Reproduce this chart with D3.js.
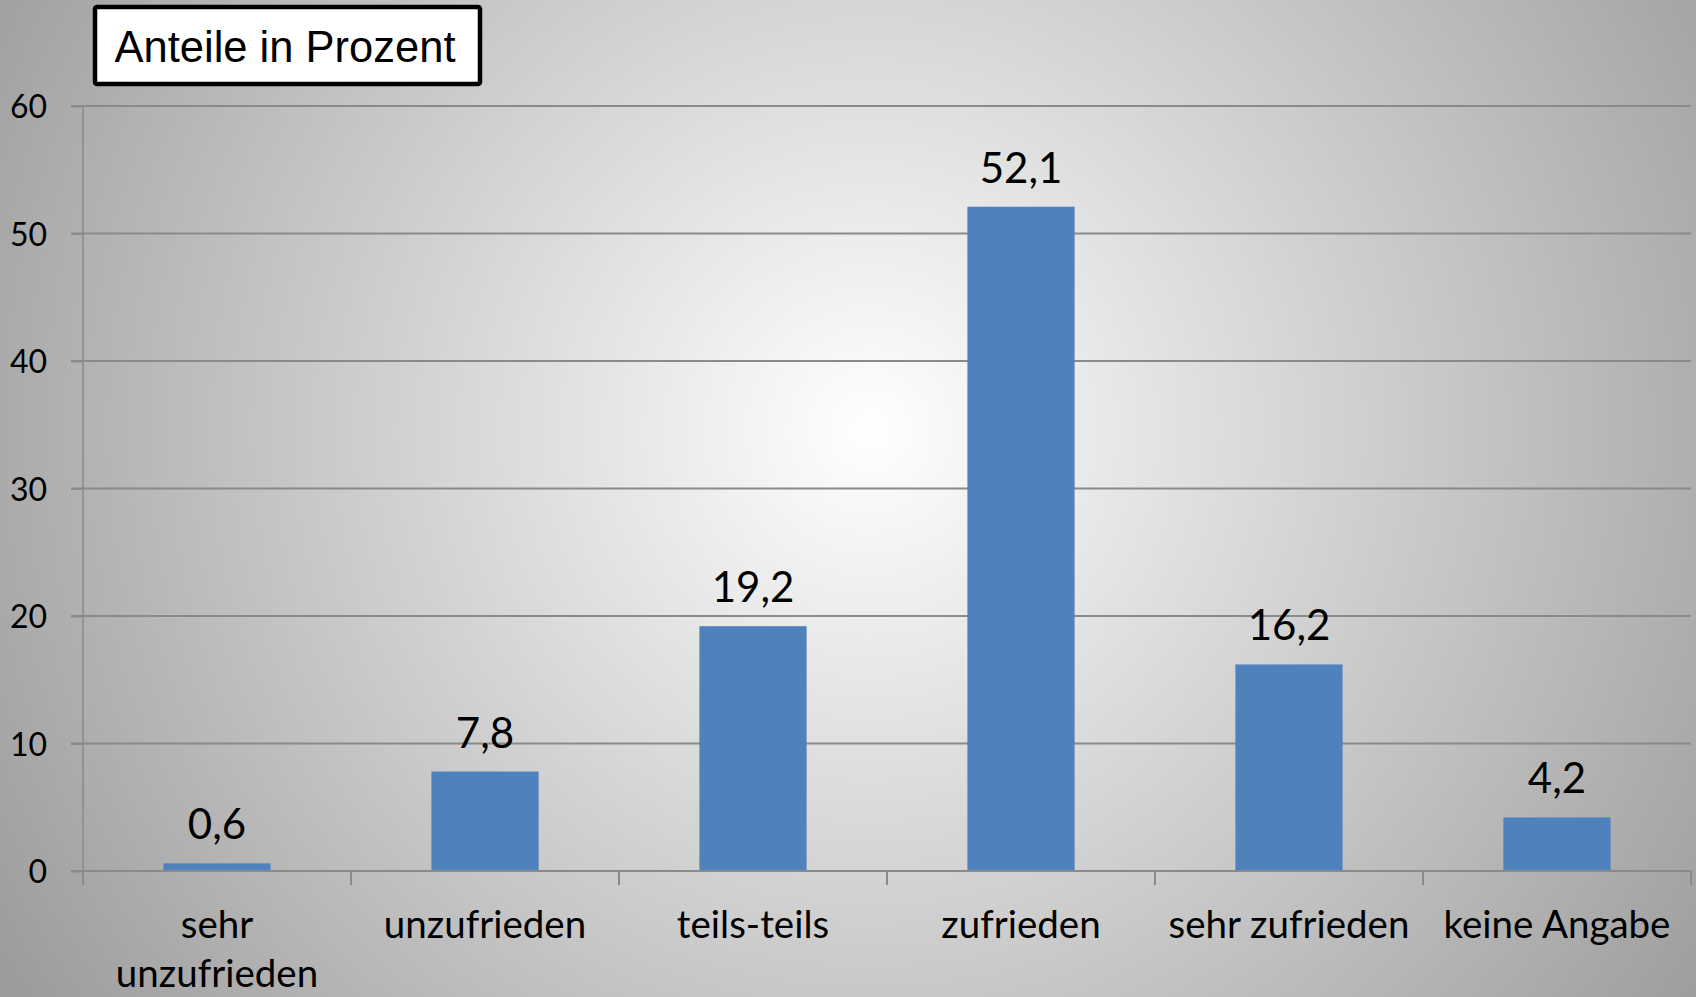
<!DOCTYPE html>
<html>
<head>
<meta charset="utf-8">
<script src="https://cdn.jsdelivr.net/npm/d3@7/dist/d3.min.js"></script>
<style>
  html, body { margin: 0; padding: 0; overflow: hidden; }
  svg { display: block; }
</style>
</head>
<body>
<svg id="chart" width="1696" height="997"></svg>
<script>
// ---- Data ----
const categories = ["sehr unzufrieden", "unzufrieden", "teils-teils", "zufrieden", "sehr zufrieden", "keine Angabe"];
const categoryLabels = [["sehr", "unzufrieden"], ["unzufrieden"], ["teils-teils"], ["zufrieden"], ["sehr zufrieden"], ["keine Angabe"]];
const values = [0.6, 7.8, 19.2, 52.1, 16.2, 4.2];
const valueLabels = ["0,6", "7,8", "19,2", "52,1", "16,2", "4,2"];
const yTicks = [0, 10, 20, 30, 40, 50, 60];
const title = "Anteile in Prozent";

// ---- Layout ----
const W = 1696, H = 997;
const plot = { left: 83, right: 1691, top: 106, bottom: 871 };
const svg = d3.select("#chart");

const defs = svg.append("defs");
const grad = defs.append("radialGradient")
  .attr("id", "bg").attr("gradientUnits", "userSpaceOnUse")
  .attr("cx", 870).attr("cy", 430).attr("r", 1020);
grad.append("stop").attr("offset", "0").attr("stop-color", "#ffffff");
grad.append("stop").attr("offset", "1").attr("stop-color", "#9c9c9c");
svg.append("rect").attr("width", W).attr("height", H).attr("fill", "url(#bg)");

const x = d3.scaleBand().domain(categories).range([plot.left, plot.right]).padding(0);
const y = d3.scaleLinear().domain([0, 60]).range([plot.bottom, plot.top]);
const bw = x.bandwidth();
const barW = bw * 0.4;

// gridlines
svg.append("g").selectAll("line").data(yTicks.slice(1)).join("line")
  .attr("x1", plot.left - 12).attr("x2", plot.right)
  .attr("y1", d => y(d)).attr("y2", d => y(d))
  .attr("stroke", "#8a8a8a").attr("stroke-width", 2);

// y axis
const yAxis = d3.axisLeft(y).tickValues(yTicks).tickSize(12).tickPadding(24);
const gy = svg.append("g").attr("transform", `translate(${plot.left},0)`).call(yAxis);
gy.select(".domain").attr("stroke", "#8a8a8a").attr("stroke-width", 1.5).attr("d", `M0,${plot.top}V${plot.bottom}`);
gy.selectAll(".tick line").attr("stroke", "#8a8a8a").attr("stroke-width", 2);
gy.selectAll(".tick text").attr("font-family", "Lato, sans-serif").attr("font-size", 32).attr("fill", "#000")
  .attr("dy", "0.36em");

// bars
svg.append("g").selectAll("rect").data(values).join("rect")
  .attr("x", (d, i) => x(categories[i]) + (bw - barW) / 2)
  .attr("width", barW)
  .attr("y", d => y(d))
  .attr("height", d => y(0) - y(d))
  .attr("fill", "#4F81BD");

// x axis
const gx = svg.append("g").attr("transform", `translate(0,${plot.bottom})`);
gx.append("line").attr("x1", plot.left - 12).attr("x2", plot.right)
  .attr("stroke", "#8a8a8a").attr("stroke-width", 2);
const edges = categories.map(c => x(c)).concat([plot.right]);
gx.selectAll("line.tk").data(edges).join("line").attr("class", "tk")
  .attr("x1", d => d).attr("x2", d => d).attr("y1", 0).attr("y2", 14)
  .attr("stroke", "#8a8a8a").attr("stroke-width", 2);

// category labels
const lab = gx.selectAll("text.cat").data(categoryLabels).join("text").attr("class", "cat")
  .attr("x", (d, i) => x(categories[i]) + bw / 2)
  .attr("y", 67)
  .attr("text-anchor", "middle")
  .attr("font-family", "Lato, sans-serif").attr("font-size", 38.5).attr("fill", "#000");
lab.each(function(lines, i) {
  const t = d3.select(this);
  const tx = x(categories[i]) + bw / 2;
  lines.forEach((ln, k) => {
    t.append("tspan").attr("x", tx).attr("dy", k === 0 ? 0 : 49).text(ln);
  });
});

// value labels
svg.append("g").selectAll("text").data(values).join("text")
  .attr("x", (d, i) => x(categories[i]) + bw / 2)
  .attr("y", d => y(d) - 24)
  .attr("text-anchor", "middle")
  .attr("font-family", "Lato, sans-serif").attr("font-size", 42).attr("fill", "#000")
  .text((d, i) => valueLabels[i]);

// title box
const tb = svg.append("g");
tb.append("rect").attr("x", 95).attr("y", 7).attr("width", 385).attr("height", 77)
  .attr("fill", "#fff").attr("stroke", "#000").attr("stroke-width", 4.5).attr("rx", 2);
tb.append("text").attr("x", 285).attr("y", 61.5).attr("text-anchor", "middle")
  .attr("font-family", "'Liberation Sans', Arial, sans-serif").attr("font-size", 43.5).attr("fill", "#000")
  .text(title);
</script>
</body>
</html>
